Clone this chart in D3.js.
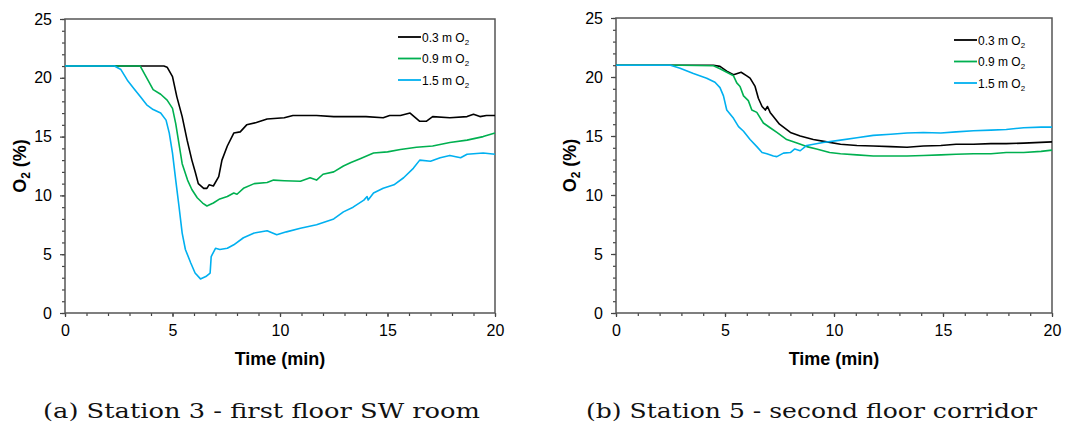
<!DOCTYPE html>
<html>
<head>
<meta charset="utf-8">
<script src="https://cdn.jsdelivr.net/npm/d3@7"></script>
<style>
  body { margin: 0; background: #fff; }
  svg { display: block; }
  .tick text { font-family: "Liberation Sans", Arial, sans-serif; font-size: 16px; fill: #000; }
  .axis-title { font-family: "Liberation Sans", Arial, sans-serif; font-size: 18px; font-weight: bold; }
  .legend text { font-family: "Liberation Sans", Arial, sans-serif; font-size: 12px; }
  .caption { font-family: "DejaVu Serif", "Liberation Serif", serif; font-size: 20px; fill: #111; }
</style>
</head>
<body>
<svg id="chart" width="1072" height="433"></svg>
<script>
// series names + colours
var seriesNames = ["0.3 m", "0.9 m", "1.5 m"];
var seriesColors = ["#000000", "#00b050", "#00b0f0"];
var captions = ["(a) Station 3 - first floor SW room", "(b) Station 5 - second floor corridor"];
var xTicks = [0, 5, 10, 15, 20];
var yTicks = [0, 5, 10, 15, 20, 25];

// station 3 : [time (min), O2 (%)]
var st3_03 = [[0,21],[4.6,21],[4.75,20.9],[5.0,20.1],[5.2,18.4],[5.45,16.7],[5.68,14.7],[5.9,13.0],
  [6.07,11.9],[6.2,11.0],[6.45,10.6],[6.6,10.6],[6.7,10.9],[6.9,10.8],[7.15,11.6],[7.3,13.0],
  [7.55,14.2],[7.85,15.3],[8.15,15.4],[8.45,16.0],[8.9,16.2],[9.4,16.5],[10.2,16.6],[10.6,16.8],
  [11.7,16.8],[12.5,16.7],[13.3,16.7],[14.0,16.7],[14.8,16.6],[15.1,16.8],[15.6,16.8],[16.05,17.0],
  [16.5,16.3],[16.8,16.3],[17.1,16.7],[17.9,16.6],[18.7,16.7],[19.0,16.9],[19.3,16.7],[19.6,16.8],[20,16.8]];
var st3_09 = [[0,21],[3.5,21],[3.8,20.0],[4.1,19.0],[4.45,18.6],[4.75,18.1],[5.0,17.4],[5.15,16.1],
  [5.3,14.4],[5.45,12.7],[5.7,11.3],[5.9,10.5],[6.15,9.8],[6.4,9.35],[6.6,9.1],[6.9,9.35],[7.2,9.7],
  [7.55,9.9],[7.85,10.2],[8.0,10.1],[8.3,10.6],[8.8,11.0],[9.4,11.1],[9.7,11.3],[10.2,11.25],
  [10.95,11.2],[11.4,11.5],[11.7,11.3],[12.0,11.8],[12.5,12.0],[12.95,12.5],[13.3,12.8],[13.7,13.1],
  [14.35,13.6],[15.0,13.7],[15.6,13.9],[16.35,14.1],[17.1,14.2],[17.9,14.5],[18.7,14.7],[19.45,15.0],[20,15.3]];
var st3_15 = [[0,21],[2.3,21],[2.6,20.7],[2.9,19.8],[3.2,19.1],[3.5,18.4],[3.8,17.7],[4.1,17.3],
  [4.45,17.0],[4.7,16.4],[4.85,15.3],[5.0,13.6],[5.15,11.3],[5.3,9.1],[5.45,6.8],[5.6,5.4],[5.85,4.25],
  [6.05,3.4],[6.3,2.9],[6.55,3.1],[6.75,3.4],[6.8,4.8],[7.0,5.5],[7.2,5.4],[7.55,5.5],[7.85,5.8],
  [8.3,6.4],[8.8,6.8],[9.4,7.0],[9.85,6.65],[10.3,6.9],[10.95,7.2],[11.7,7.5],[12.5,8.0],[12.95,8.6],
  [13.4,9.0],[13.9,9.6],[14.05,9.9],[14.1,9.6],[14.35,10.2],[14.8,10.6],[15.3,10.9],[15.75,11.5],
  [16.2,12.3],[16.5,13.0],[17.0,12.9],[17.45,13.2],[17.9,13.4],[18.4,13.2],[18.7,13.5],[19.45,13.6],[20,13.5]];

// station 5
var st5_03 = [[0,21],[4.47,21],[4.77,20.9],[5.08,20.5],[5.39,20.2],[5.74,20.4],[6.0,20.1],[6.15,19.9],
  [6.38,19.2],[6.53,18.2],[6.7,17.5],[6.85,17.2],[6.95,17.5],[7.07,17.0],[7.2,16.7],[7.5,16.0],
  [8.0,15.3],[8.45,15.0],[9.05,14.7],[9.67,14.5],[10.3,14.3],[11.05,14.2],[11.8,14.15],[12.6,14.1],
  [13.35,14.05],[14.1,14.15],[14.9,14.2],[15.6,14.3],[16.4,14.3],[17.2,14.35],[17.9,14.35],[18.7,14.4],[20,14.5]];
var st5_09 = [[0,21],[3.0,21],[4.47,20.95],[4.77,20.7],[5.08,20.4],[5.39,20.1],[5.54,19.5],[5.69,19.2],
  [5.85,18.4],[6.07,18.0],[6.23,17.2],[6.46,17.0],[6.76,16.1],[7.07,15.7],[7.38,15.3],[7.83,14.7],
  [8.3,14.4],[8.75,14.1],[9.2,13.9],[9.8,13.6],[10.3,13.5],[11.05,13.4],[11.8,13.3],[12.6,13.3],
  [13.35,13.3],[14.1,13.35],[14.9,13.4],[15.6,13.45],[16.4,13.5],[17.2,13.5],[17.9,13.6],[18.7,13.6],[19.5,13.7],[20,13.8]];
var st5_15 = [[0,21],[2.5,21],[2.94,20.75],[3.55,20.3],[4.16,19.9],[4.54,19.55],[4.77,19.1],[4.93,18.4],
  [5.08,17.2],[5.39,16.5],[5.62,15.8],[5.85,15.4],[6.15,14.7],[6.46,14.1],[6.7,13.6],[6.92,13.5],
  [7.22,13.3],[7.38,13.25],[7.68,13.55],[8.0,13.6],[8.2,13.9],[8.45,13.75],[8.75,14.2],[9.5,14.45],
  [10.3,14.65],[11.05,14.85],[11.8,15.05],[12.6,15.15],[13.35,15.25],[14.1,15.3],[14.9,15.25],
  [15.6,15.35],[16.4,15.45],[17.2,15.5],[17.9,15.55],[18.7,15.7],[19.5,15.75],[20,15.75]];

var panels = [
  { left: 65, right: 495, top: 19, bottom: 313, series: [st3_03, st3_09, st3_15],
    ylabelX: 20, legendX: 398, legendY: 37, captionX: 261.5, captionW: 437 },
  { left: 616, right: 1052, top: 18, bottom: 313, series: [st5_03, st5_09, st5_15],
    ylabelX: 570, legendX: 954, legendY: 40, captionX: 811.5, captionW: 451 }
];

var svg = d3.select("#chart");

panels.forEach(function(p, pi){
  var x = d3.scaleLinear().domain([0, 20]).range([p.left, p.right]);
  var y = d3.scaleLinear().domain([0, 25]).range([p.bottom, p.top]);
  var g = svg.append("g");

  // minor ticks every 1 unit
  var xAxisMinor = d3.axisBottom(x).tickValues(d3.range(0, 21, 1)).tickSize(3).tickFormat("");
  var yAxisMinor = d3.axisLeft(y).tickValues(d3.range(0, 26, 1)).tickSize(3).tickFormat("");
  g.append("g").attr("transform", "translate(0," + p.bottom + ")").call(xAxisMinor);
  g.append("g").attr("transform", "translate(" + p.left + ",0)").call(yAxisMinor);

  var xAxis = d3.axisBottom(x).tickValues(xTicks).tickSize(4).tickPadding(8);
  var yAxis = d3.axisLeft(y).tickValues(yTicks).tickSize(5).tickPadding(8);
  g.append("g").attr("transform", "translate(0," + p.bottom + ")").call(xAxis);
  g.append("g").attr("transform", "translate(" + p.left + ",0)").call(yAxis);
  g.selectAll(".domain").remove();
  g.selectAll(".tick line").attr("stroke", "#444").attr("stroke-width", 1.2);

  // frame
  g.append("rect")
    .attr("x", p.left).attr("y", p.top)
    .attr("width", p.right - p.left).attr("height", p.bottom - p.top)
    .attr("fill", "none").attr("stroke", "#555").attr("stroke-width", 1.5);

  // lines
  var line = d3.line().x(d => x(d[0])).y(d => y(d[1]));
  p.series.forEach(function(s, i){
    g.append("path")
      .datum(s)
      .attr("d", line)
      .attr("fill", "none")
      .attr("stroke", seriesColors[i])
      .attr("stroke-width", 1.6)
      .attr("stroke-linejoin", "round");
  });

  // legend
  var leg = g.append("g").attr("class", "legend");
  seriesNames.forEach(function(name, i){
    var ly = p.legendY + i * 21.5;
    leg.append("line")
      .attr("x1", p.legendX).attr("x2", p.legendX + 23)
      .attr("y1", ly).attr("y2", ly)
      .attr("stroke", seriesColors[i]).attr("stroke-width", 1.8);
    var t = leg.append("text").attr("x", p.legendX + 24).attr("y", ly + 4.5);
    t.append("tspan").text(name + " O");
    t.append("tspan").attr("font-size", "8px").attr("dy", 3).text("2");
  });

  // axis titles
  g.append("text").attr("class", "axis-title")
    .attr("x", (p.left + p.right) / 2).attr("y", 365)
    .attr("text-anchor", "middle")
    .text("Time (min)");
  var yt = g.append("text").attr("class", "axis-title")
    .attr("transform", "translate(" + (p.ylabelX + 6) + "," + ((p.top + p.bottom) / 2) + ") rotate(-90)")
    .attr("text-anchor", "middle");
  yt.append("tspan").text("O");
  yt.append("tspan").attr("font-size", "12px").attr("dy", 4).text("2");
  yt.append("tspan").attr("dy", -4).text(" (%)");

  // caption
  g.append("text").attr("class", "caption")
    .attr("x", p.captionX - p.captionW / 2).attr("y", 418)
    .attr("textLength", p.captionW)
    .attr("lengthAdjust", "spacingAndGlyphs")
    .text(captions[pi]);
});
</script>
</body>
</html>
